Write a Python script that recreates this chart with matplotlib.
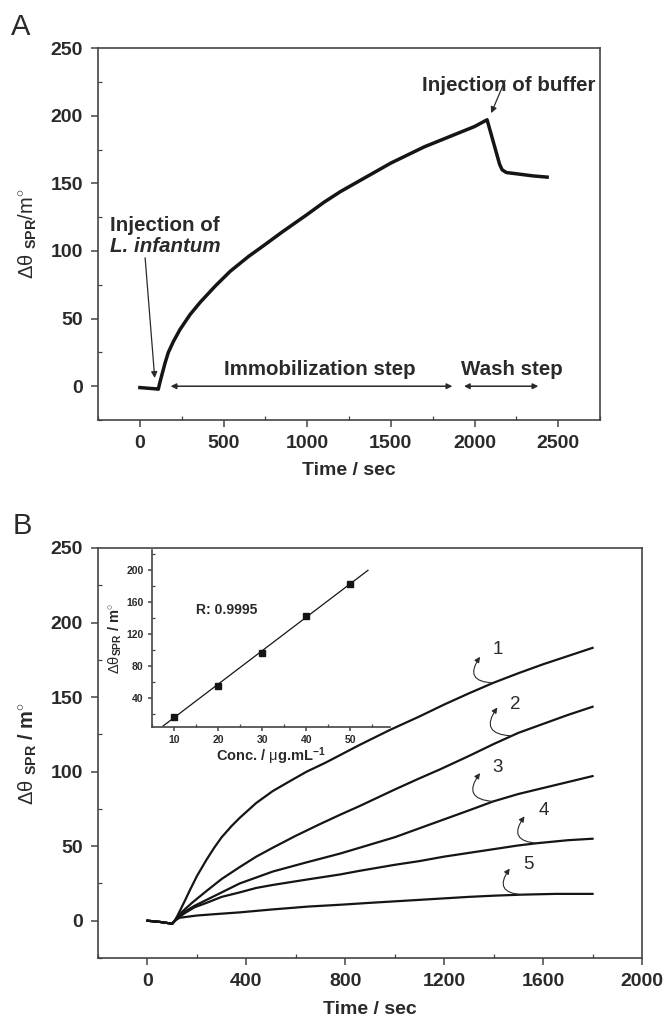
import matplotlib
matplotlib.use('Agg')
import matplotlib.pyplot as plt
from matplotlib.ticker import MultipleLocator

plt.rcParams['font.family'] = ['Liberation Sans', 'DejaVu Sans']
plt.rcParams['mathtext.fontset'] = 'custom'
plt.rcParams['mathtext.rm'] = 'Liberation Sans'
plt.rcParams['mathtext.bf'] = 'Liberation Sans:bold'
plt.rcParams['mathtext.it'] = 'Liberation Sans:italic'

# panel A: immobilization sensorgram
time_a = [0, 50, 100, 110, 120, 135, 150, 170, 200, 240, 300, 360, 450, 540, 650, 740,
          850, 1000, 1100, 1200, 1300, 1400, 1500, 1600, 1700, 1800, 1900, 2000, 2075,
          2150, 2165, 2190, 2255, 2350, 2434]
signal_a = [-1, -1.5, -2, -2.2, 3, 10, 17, 25, 33, 42, 53, 62, 74, 85, 96, 104,
            114, 127, 136, 144, 151, 158, 165, 171, 177, 182, 187, 192, 197,
            164, 160, 158, 157, 155.5, 154.6]

# panel B: binding curves for 5 concentrations
time_b1 = [0, 50, 100, 110, 120, 135, 150, 170, 200, 239, 270, 300, 340, 373, 440, 507,
           580, 644, 720, 778, 859, 981, 1100, 1200, 1300, 1398, 1500, 1600, 1700, 1800]
sig_b1 = [0, -0.8, -2, 0, 3, 8, 13, 20, 30, 41, 49, 56, 63.5, 69, 79, 87,
          94, 100, 106, 111, 118, 128, 137, 145, 152.5, 159.5, 166, 172, 177.5, 183]
time_b2 = [0, 50, 100, 120, 140, 180, 239, 300, 373, 440, 507, 600, 700, 778, 859,
           1000, 1100, 1183, 1300, 1400, 1500, 1600, 1700, 1800]
sig_b2 = [0, -0.8, -2, 2, 6, 12, 20, 28, 36, 43, 49, 57, 65, 71, 77,
          88, 95.5, 101.5, 110.5, 118.5, 126, 132, 138, 143.5]
time_b3 = [0, 50, 100, 120, 150, 190, 239, 300, 373, 440, 507, 640, 778, 859, 1000,
           1100, 1200, 1300, 1398, 1500, 1600, 1700, 1800]
sig_b3 = [0, -0.8, -2, 2, 6, 10, 14, 19, 25, 29, 33, 39, 45, 49, 56,
          62, 68, 74, 80, 85, 89, 93, 97]
time_b4 = [0, 50, 100, 120, 150, 190, 239, 300, 373, 440, 507, 640, 778, 859, 1000,
           1100, 1200, 1300, 1400, 1500, 1576, 1700, 1800]
sig_b4 = [0, -0.8, -2, 1.5, 5, 9, 12, 16, 19, 22, 24, 27.5, 31, 33.5, 37.5,
          40, 43, 45.5, 48, 50.5, 52, 54, 55]
time_b5 = [0, 50, 100, 115, 130, 200, 280, 373, 500, 650, 778, 900, 1000, 1100, 1200,
           1300, 1400, 1516, 1650, 1800]
sig_b5 = [0, -0.8, -2, 0.5, 2, 3.5, 4.5, 5.6, 7.5, 9.5, 10.7, 12, 13, 14, 15,
          16, 16.8, 17.5, 18, 18]

# inset: calibration
conc = [10, 20, 30, 40, 50]
resp = [16, 55, 96, 143, 183]
fit_x = [7.5, 54]
fit_slope, fit_icpt = 4.18, -26.2

curve_labels = ['1', '2', '3', '4', '5']
# (point on curve, arrow end, label position)
label_pts = [((1398, 159.5), (1345, 177), (1418, 182)),
             ((1470, 124), (1415, 143), (1487, 145)),
             ((1398, 80), (1345, 99), (1414, 103)),
             ((1576, 52), (1525, 70), (1601, 74)),
             ((1516, 17.5), (1465, 35), (1540, 38))]

DARK = '#2a2a2a'
SPINE = '#444444'


def style_axes(ax, fs=14, pad=6):
    for s in ax.spines.values():
        s.set_color(SPINE)
        s.set_linewidth(1.2)
    ax.tick_params(which='major', direction='out', length=5, width=1.1, pad=pad,
                   color=SPINE, labelsize=fs, top=False, right=False)
    ax.tick_params(which='minor', direction='in', length=3, width=0.9,
                   color=SPINE, top=False, right=False)
    for lab in ax.get_xticklabels() + ax.get_yticklabels():
        lab.set_fontweight('bold')
        lab.set_color(DARK)


fig = plt.figure(figsize=(6.67, 10.21), dpi=100)

# ---- panel A
ax1 = fig.add_axes([0.147, 0.5886, 0.7526, 0.3643])
ax1.plot(time_a, signal_a, color='#151515', lw=2.5, solid_joinstyle='round')
ax1.set_xlim(-250, 2750)
ax1.set_ylim(-25, 250)
ax1.xaxis.set_major_locator(MultipleLocator(500))
ax1.xaxis.set_minor_locator(MultipleLocator(250))
ax1.yaxis.set_major_locator(MultipleLocator(50))
ax1.yaxis.set_minor_locator(MultipleLocator(25))
style_axes(ax1)
ax1.set_xlabel('Time / sec', fontsize=14, fontweight='bold', color=DARK, labelpad=7)
ax1.set_ylabel(r'$\mathrm{\Delta\theta}\ _{\mathbf{SPR}}$/m$^{\circ}$', fontsize=14.5,
               color=DARK, labelpad=8)

ax1.text(-180, 115, 'Injection of', fontsize=14.8, fontweight='bold', color=DARK)
ax1.text(-180, 99, 'L. infantum', fontsize=14.8, fontweight='bold', style='italic', color=DARK)
ax1.annotate('', xy=(90, 4), xytext=(30, 97),
             arrowprops=dict(arrowstyle='-|>', color=DARK, lw=0.9, mutation_scale=9))
ax1.text(2720, 222, 'Injection of buffer', fontsize=14.8, fontweight='bold', color=DARK,
         ha='right', va='center')
ax1.annotate('', xy=(2093, 200), xytext=(2189, 228),
             arrowprops=dict(arrowstyle='-|>', color=DARK, lw=0.9, mutation_scale=9))
ax1.text(1077, 12, 'Immobilization step', fontsize=14.8, fontweight='bold', color=DARK,
         ha='center', va='center')
ax1.annotate('', xy=(167, 0), xytext=(1884, 0),
             arrowprops=dict(arrowstyle='<|-|>', color=DARK, lw=1.1, mutation_scale=8))
ax1.text(2225, 12, 'Wash step', fontsize=14.8, fontweight='bold', color=DARK,
         ha='center', va='center')
ax1.annotate('', xy=(1920, 0), xytext=(2398, 0),
             arrowprops=dict(arrowstyle='<|-|>', color=DARK, lw=1.1, mutation_scale=8))

# ---- panel B
ax2 = fig.add_axes([0.147, 0.0617, 0.8155, 0.4016])
for tx, sy in [(time_b1, sig_b1), (time_b2, sig_b2), (time_b3, sig_b3),
               (time_b4, sig_b4), (time_b5, sig_b5)]:
    ax2.plot(tx, sy, color='#151515', lw=1.6)
ax2.set_xlim(-200, 2000)
ax2.set_ylim(-25, 250)
ax2.xaxis.set_major_locator(MultipleLocator(400))
ax2.xaxis.set_minor_locator(MultipleLocator(200))
ax2.yaxis.set_major_locator(MultipleLocator(50))
ax2.yaxis.set_minor_locator(MultipleLocator(25))
style_axes(ax2)
ax2.set_xlabel('Time / sec', fontsize=14, fontweight='bold', color=DARK, labelpad=8)
ax2.set_ylabel(r'$\mathrm{\Delta\theta}\ _{\mathbf{SPR}}\ \mathbf{/\ m^{\circ}}$', fontsize=14.5,
               color=DARK, labelpad=8)

for lab, (on_curve, tip, txt) in zip(curve_labels, label_pts):
    ax2.annotate('', xy=tip, xytext=on_curve,
                 arrowprops=dict(arrowstyle='-|>', color=DARK, lw=0.8, mutation_scale=8,
                                 shrinkA=0, shrinkB=0,
                                 connectionstyle='arc3,rad=-0.9'))
    ax2.text(txt[0], txt[1], lab, fontsize=13.5, color=DARK, ha='center', va='center')

# ---- inset
ax3 = fig.add_axes([0.2279, 0.2880, 0.3568, 0.1734])
ax3.patch.set_alpha(0)
ax3.plot(fit_x, [fit_slope * v + fit_icpt for v in fit_x], color='#151515', lw=0.9)
ax3.plot(conc, resp, 's', color='#151515', ms=4.5)
ax3.set_xlim(5, 59)
ax3.set_ylim(4, 225)
ax3.xaxis.set_major_locator(MultipleLocator(10))
ax3.xaxis.set_minor_locator(MultipleLocator(5))
ax3.yaxis.set_major_locator(MultipleLocator(40))
ax3.yaxis.set_minor_locator(MultipleLocator(20))
ax3.spines['top'].set_visible(False)
ax3.spines['right'].set_visible(False)
style_axes(ax3, fs=7.5, pad=3)
ax3.tick_params(which='major', length=3)
ax3.tick_params(which='minor', length=2)
ax3.set_xlabel(r'Conc. / $\mathrm{\mu}$g.mL$^{\mathbf{-1}}$', fontsize=10.5, fontweight='bold',
               color=DARK, labelpad=0)
ax3.set_ylabel(r'$\mathrm{\Delta\theta}_{\mathbf{SPR}}\ \mathbf{/\ m^{\circ}}$', fontsize=10.5,
               color=DARK, labelpad=2)
ax3.text(15, 150, 'R: 0.9995', fontsize=10, fontweight='bold', color=DARK, va='center')

fig.text(0.017, 0.966, 'A', fontsize=21, color=DARK)
fig.text(0.019, 0.477, 'B', fontsize=21, color=DARK)

fig.savefig('out.png', dpi=100)
plt.close(fig)
